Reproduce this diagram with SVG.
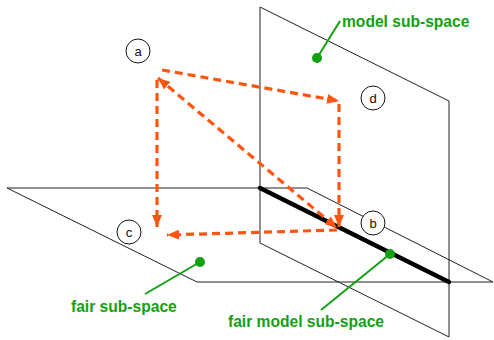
<svg xmlns="http://www.w3.org/2000/svg" width="494" height="340" viewBox="0 0 494 340">
<style>
.plane{fill:none;stroke:#222;stroke-width:1}
.arr{fill:none;stroke:#ff5511;stroke-width:3.2;stroke-dasharray:8 5}
.lbl{font-family:"Liberation Sans",Arial,sans-serif;font-size:13px;fill:#111;text-anchor:middle}
.circ{fill:#fff;stroke:#111;stroke-width:1}
.g{fill:#13a013;font-family:"Liberation Sans",Arial,sans-serif;font-size:15.6px;font-weight:bold}
.gl{stroke:#13a013;stroke-width:2;fill:none}
</style>
<defs>
<marker id="ah" markerWidth="12" markerHeight="10" refX="12" refY="5" orient="auto" markerUnits="userSpaceOnUse">
<path d="M0,0 L12,5 L0,10 z" fill="#ff5511"/>
</marker>
<marker id="as" markerWidth="12" markerHeight="10" refX="0" refY="5" orient="auto" markerUnits="userSpaceOnUse">
<path d="M12,0 L0,5 L12,10 z" fill="#ff5511"/>
</marker>
</defs>
<g id="fair-plane"><path class="plane" d="M7,188 L307,188 L493,282 L197,282 Z"/></g>
<g id="model-plane"><path class="plane" d="M260,7 L449,101 L449,337 L260,243 Z"/></g>
<g id="fair-model-line"><path d="M260,188 L449,282" stroke="#000" stroke-width="4.5" stroke-linecap="round"/></g>
<g id="connectors">
<path class="arr" d="M162,70 L339,101" marker-end="url(#ah)"/>
<path class="arr" d="M157,80 L157,227" marker-end="url(#ah)"/>
<path class="arr" d="M339,104 L339,227" marker-end="url(#ah)"/>
<path class="arr" d="M337,230 L167,235" marker-end="url(#ah)"/>
<path class="arr" d="M158,78 L337,228" marker-start="url(#as)" marker-end="url(#ah)"/>
</g>
<g id="a"><circle class="circ" cx="138" cy="51" r="12"/><text class="lbl" x="138" y="56">a</text></g>
<g id="d"><circle class="circ" cx="373" cy="98" r="12"/><text class="lbl" x="373" y="103">d</text></g>
<g id="b"><circle class="circ" cx="373" cy="223" r="12"/><text class="lbl" x="373" y="228">b</text></g>
<g id="c"><circle class="circ" cx="129" cy="232" r="12"/><text class="lbl" x="129" y="237">c</text></g>
<g id="model-label">
<line class="gl" x1="317" y1="58" x2="340" y2="21"/>
<circle cx="317" cy="58" r="5" fill="#13a013"/>
<text class="g" x="342" y="27">model sub-space</text>
</g>
<g id="fair-label">
<line class="gl" x1="200" y1="262" x2="145" y2="294"/>
<circle cx="200" cy="262" r="5" fill="#13a013"/>
<text class="g" x="71" y="312">fair sub-space</text>
</g>
<g id="fair-model-label">
<line class="gl" x1="390" y1="254" x2="321" y2="310"/>
<circle cx="390" cy="254" r="5" fill="#13a013"/>
<text class="g" x="228" y="327">fair model sub-space</text>
</g>
</svg>
